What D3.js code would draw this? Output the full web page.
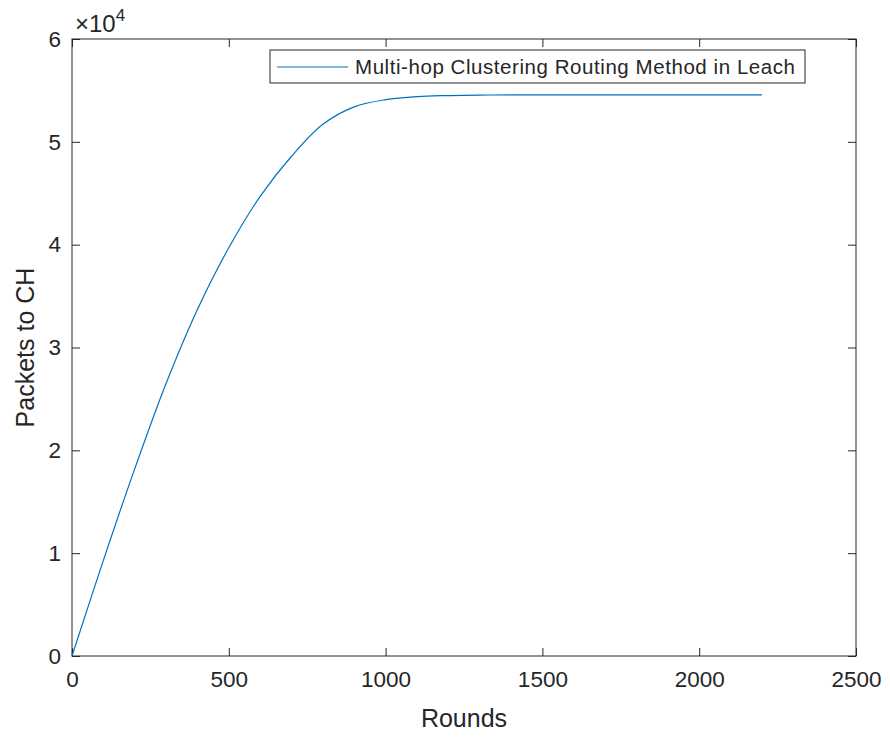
<!DOCTYPE html>
<html>
<head>
<meta charset="utf-8">
<script src="https://cdn.jsdelivr.net/npm/d3@7"></script>
<style>
  body { margin: 0; background: #fff; }
  svg text { font-family: "Liberation Sans", Arial, sans-serif; fill: #262626; }
</style>
</head>
<body>
<svg id="chart-container" width="890" height="738"></svg>
<script>
// rounds (x) and packets sent to cluster heads (y)
const rounds = [0, 100, 200, 300, 400, 500, 600, 700, 800, 900, 1000, 1100, 1200, 1300, 1400, 1600, 1800, 2000, 2200];
const packets = [0, 9300, 18200, 26500, 33700, 39700, 44700, 48600, 51700, 53400, 54100, 54400, 54500, 54550, 54560, 54570, 54570, 54570, 54570];
const xTicks = [0, 500, 1000, 1500, 2000, 2500];
const yTicks = [0, 10000, 20000, 30000, 40000, 50000, 60000];
const seriesName = "Multi-hop Clustering Routing Method in Leach";

const svg = d3.select("#chart-container");
const mLeft = 72, mRight = 856, mTop = 39, mBottom = 656;
const axisColor = "#262626";

const x = d3.scaleLinear().domain([0, 2500]).range([mLeft, mRight]);
const y = d3.scaleLinear().domain([0, 60000]).range([mBottom, mTop]);

// plot box
svg.append("rect")
  .attr("x", mLeft).attr("y", mTop)
  .attr("width", mRight - mLeft).attr("height", mBottom - mTop)
  .attr("fill", "none").attr("stroke", axisColor).attr("stroke-width", 1);

const tickLen = 8;
// bottom axis, ticks pointing inward
const xAxis = svg.append("g").attr("transform", `translate(0,${mBottom})`)
  .call(d3.axisBottom(x).tickValues(xTicks).tickSize(-tickLen).tickPadding(15).tickFormat(d3.format("d")));
// top ticks
svg.append("g").attr("transform", `translate(0,${mTop})`)
  .call(d3.axisTop(x).tickValues(xTicks).tickSize(-tickLen).tickFormat(""));
// left axis
const yAxis = svg.append("g").attr("transform", `translate(${mLeft},0)`)
  .call(d3.axisLeft(y).tickValues(yTicks).tickSize(-tickLen).tickPadding(11).tickFormat(d => d / 10000));
// right ticks
svg.append("g").attr("transform", `translate(${mRight},0)`)
  .call(d3.axisRight(y).tickValues(yTicks).tickSize(-tickLen).tickFormat(""));

svg.selectAll(".domain").remove();
svg.selectAll(".tick line").attr("stroke", axisColor);
svg.selectAll(".tick text").attr("font-size", 22.5).attr("fill", axisColor);

// exponent label
const expo = svg.append("text").attr("x", 75).attr("y", 32).attr("font-size", 24);
expo.append("tspan").text("×10");
expo.append("tspan").attr("dy", -11).attr("font-size", 17).text("4");

// axis labels
svg.append("text").attr("x", (mLeft + mRight) / 2).attr("y", 727)
  .attr("text-anchor", "middle").attr("font-size", 25).text("Rounds");
svg.append("text")
  .attr("transform", `translate(34,${(mTop + mBottom) / 2}) rotate(-90)`)
  .attr("text-anchor", "middle").attr("font-size", 25).text("Packets to CH");

// data line
const line = d3.line()
  .x((d, i) => x(rounds[i]))
  .y(d => y(d))
  .curve(d3.curveCatmullRom.alpha(0.5));
svg.append("path")
  .datum(packets)
  .attr("d", line)
  .attr("fill", "none")
  .attr("stroke", "#0072BD")
  .attr("stroke-width", 1.2);

// legend
const legend = svg.append("g");
legend.append("rect")
  .attr("x", 270).attr("y", 50).attr("width", 535).attr("height", 33)
  .attr("fill", "#fff").attr("stroke", axisColor).attr("stroke-width", 1);
legend.append("line")
  .attr("x1", 277).attr("x2", 348).attr("y1", 67).attr("y2", 67)
  .attr("stroke", "#0072BD").attr("stroke-width", 1.2);
legend.append("text")
  .attr("x", 355).attr("y", 74).attr("font-size", 20.5).attr("textLength", 440)
  .text(seriesName);
</script>
</body>
</html>
